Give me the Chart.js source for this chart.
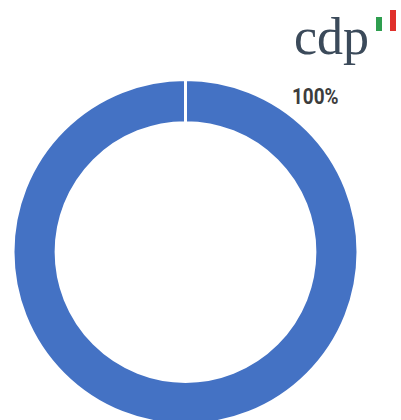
<!DOCTYPE html>
<html>
<head>
<meta charset="utf-8">
<script src="https://cdn.jsdelivr.net/npm/chart.js@4"></script>
<style>
    html, body { margin: 0; padding: 0; background: #fff; overflow: hidden; }
    body { width: 401px; height: 420px; position: relative; }
    #shareChart { position: absolute; left: -3px; top: 78px; }
    .logo {
        position: absolute; left: 294px; top: 11px;
        font-family: "Liberation Serif", serif; font-size: 52px;
        color: #3b4a5a; line-height: 1;
    }
    .flag { position: absolute; width: 6px; }
    .flag.green { left: 376px; top: 17px; height: 14px; background: #2e9e4f; }
    .flag.red { left: 390px; top: 10px; height: 21px; background: #e0302b; }
    .pct {
        position: absolute; left: 292px; top: 86px;
        font-family: Roboto, sans-serif; font-weight: bold; font-size: 22px; color: #3c3c3c;
        line-height: 1; transform: scaleX(0.86); transform-origin: left top;
    }
</style>
</head>
<body>
<div class="logo">cdp</div>
<div class="flag green"></div>
<div class="flag red"></div>
<div class="pct" id="pctLabel"></div>
<canvas id="shareChart" width="377" height="348"></canvas>
<script>
const categories = ['Share'];
const shareValues = [100];
const sliceColors = ['#4472C4'];

document.addEventListener('DOMContentLoaded', function () {
    const total = shareValues.reduce((a, b) => a + b, 0);
    document.getElementById('pctLabel').textContent = Math.round(shareValues[0] / total * 100) + '%';

    const ctx = document.getElementById('shareChart').getContext('2d');
    new Chart(ctx, {
        type: 'doughnut',
        data: {
            labels: categories,
            datasets: [{
                data: shareValues,
                backgroundColor: sliceColors,
                borderColor: '#ffffff',
                borderWidth: 3
            }]
        },
        options: {
            responsive: false,
            animation: false,
            cutout: '75%',
            layout: { padding: 0 },
            plugins: {
                legend: { display: false },
                tooltip: { enabled: false }
            }
        }
    });
});
</script>
</body>
</html>
